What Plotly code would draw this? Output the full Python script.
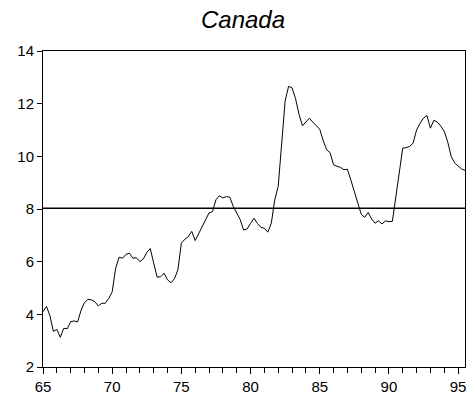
import plotly.graph_objects as go
import numpy as np

# quarterly unemployment rate, Canada, 1965Q1 - 1995Q3
rate = [
    4.1, 4.3, 3.95, 3.35, 3.43, 3.13, 3.47, 3.45,
    3.72, 3.75, 3.71, 4.15, 4.45, 4.57, 4.55, 4.48,
    4.32, 4.42, 4.42, 4.6, 4.85, 5.75, 6.17, 6.13,
    6.28, 6.32, 6.13, 6.15, 6.0, 6.1, 6.35, 6.5,
    5.95, 5.41, 5.43, 5.56, 5.31, 5.2, 5.35, 5.69,
    6.7, 6.85, 6.95, 7.15, 6.8, 7.05, 7.35, 7.55,
    7.85, 7.9, 8.35, 8.5, 8.42, 8.47, 8.45, 8.1,
    7.85, 7.6, 7.2, 7.24, 7.45, 7.65, 7.45, 7.3,
    7.27, 7.12, 7.46, 8.35, 8.86, 10.5, 12.1, 12.66,
    12.6, 12.2, 11.6, 11.16, 11.3, 11.45, 11.3, 11.15,
    11.03, 10.6, 10.25, 10.14, 9.68, 9.62, 9.58, 9.49,
    9.51, 9.1, 8.65, 8.2, 7.8, 7.68, 7.87, 7.62,
    7.46, 7.55, 7.43, 7.55, 7.52, 7.53, 8.46, 9.47,
    10.31, 10.33, 10.38, 10.5, 11.0, 11.25, 11.45, 11.55,
    11.07, 11.37, 11.3, 11.15, 10.95, 10.55, 10.0, 9.75,
    9.64, 9.52, 9.47,
]
start_year = 65
mean_level = 8.03
x_ticks = [65, 70, 75, 80, 85, 90, 95]
y_ticks = [2, 4, 6, 8, 10, 12, 14]

t = start_year + np.arange(len(rate)) / 4.0

fig = go.Figure()
fig.add_trace(go.Scatter(x=t, y=rate, mode="lines",
                         line=dict(color="black", width=1), hoverinfo="skip"))
fig.add_trace(go.Scatter(x=[t[0], t[-1]], y=[mean_level, mean_level], mode="lines",
                         line=dict(color="black", width=1.5), hoverinfo="skip"))

font = "Liberation Sans, Arial, sans-serif"
fig.update_layout(
    width=468, height=400,
    margin=dict(l=43, r=3, t=51, b=33),
    paper_bgcolor="white", plot_bgcolor="white",
    showlegend=False,
    title=dict(text="<i>Canada</i>", xref="container", x=243/468, xanchor="center",
               yref="container", y=0.95, yanchor="middle",
               font=dict(family="Liberation Sans Narrow, Arial Narrow, " + font,
                         size=24, color="black")),
    font=dict(family=font, size=15, color="black"),
)
fig.update_xaxes(range=[t[0], t[-1]], tickvals=x_ticks, ticktext=[str(v) for v in x_ticks],
                 ticks="outside", ticklen=6, tickcolor="black", showgrid=False,
                 zeroline=False, showline=True, linecolor="black", linewidth=1, mirror=True,
                 automargin=False,
                 minor=dict(dtick=1, ticks="outside", ticklen=5, tickcolor="black"))
fig.update_yaxes(range=[2, 14], tickvals=y_ticks, ticks="outside", ticklen=5,
                 tickcolor="black", showgrid=False, zeroline=False, showline=True,
                 linecolor="black", linewidth=1, mirror=True, automargin=False)

fig.write_html("out.html", config={"displayModeBar": False},
               post_script="document.body.style.margin='0';")
